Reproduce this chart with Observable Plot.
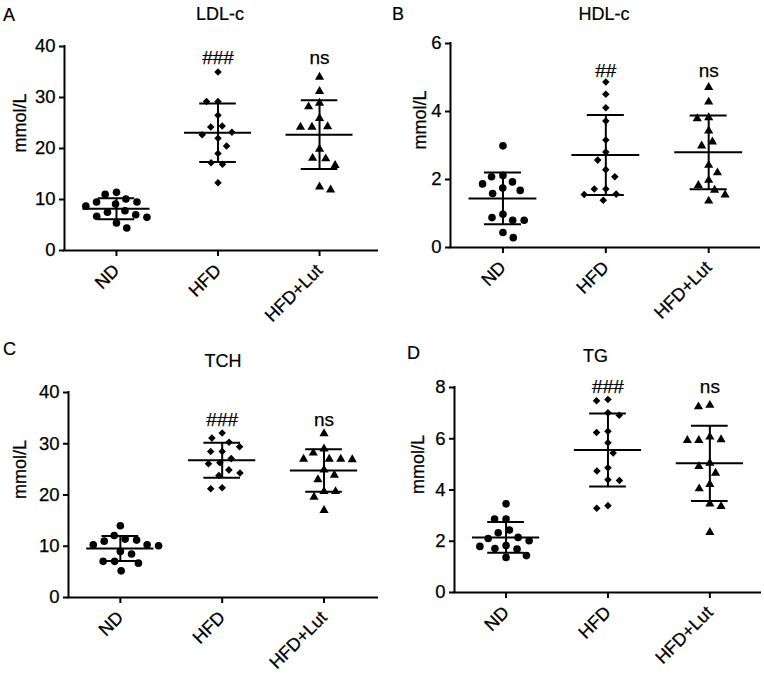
<!DOCTYPE html>
<html><head><meta charset="utf-8">
<script src="https://cdn.jsdelivr.net/npm/d3@7"></script>
<script src="https://cdn.jsdelivr.net/npm/@observablehq/plot@0.6"></script>
<style>
body{margin:0;background:#fff;font-family:"Liberation Sans",Arial,sans-serif;}
#wrap{position:relative;width:764px;height:676px;overflow:hidden;background:#fff}
.panel{position:absolute}
.panel svg{background:transparent !important;max-width:none !important}
#wrap text{paint-order:stroke;stroke:#000;stroke-width:0.25px}
.lbl{position:absolute;font-size:18px;line-height:18px;color:#000;white-space:nowrap;-webkit-text-stroke:0.2px #000}
</style></head><body><div id="wrap"></div>
<script>
// ---- data (mmol/L) ----
const groups = ["ND", "HFD", "HFD+Lut"];
const unitLabel = "mmol/L";
const panelLetters = ["A", "B", "C", "D"];
const panelTitles = ["LDL-c", "HDL-c", "TCH", "TG"];

const ldlND  = [11.4, 11.0, 10.1, 9.5, 9.5, 9.1, 8.7, 7.8, 7.5, 7.0, 6.7, 6.5, 5.4, 4.4];
const ldlHFD = [35.0, 29.2, 29.2, 26.5, 24.4, 24.2, 23.2, 22.7, 22.0, 20.5, 19.0, 17.2, 16.9, 13.3];
const ldlLut = [34.0, 31.2, 28.9, 28.2, 25.9, 24.3, 24.2, 24.2, 19.9, 18.1, 18.0, 16.7, 12.5, 11.9];

const hdlND  = [2.99, 2.12, 2.08, 1.93, 1.87, 1.75, 1.68, 1.59, 0.98, 0.88, 0.80, 0.80, 0.44, 0.29];
const hdlHFD = [4.87, 4.51, 4.11, 3.72, 3.16, 2.81, 2.57, 2.29, 2.08, 1.72, 1.72, 1.57, 1.56, 1.39];
const hdlLut = [4.71, 4.28, 3.82, 3.79, 3.43, 3.11, 2.99, 2.42, 2.20, 1.98, 1.83, 1.69, 1.55, 1.37];

const tchND  = [14.0, 12.1, 11.4, 11.2, 11.0, 10.3, 10.3, 10.1, 9.0, 8.5, 7.05, 7.05, 6.7, 5.2];
const tchHFD = [32.1, 31.1, 30.3, 29.4, 28.5, 28.5, 27.1, 26.3, 26.1, 24.9, 24.3, 23.8, 21.4, 21.2];
const tchLut = [32.0, 29.0, 28.2, 27.0, 27.0, 27.0, 26.9, 24.9, 23.9, 23.0, 20.7, 20.7, 19.6, 17.0];

const tgND  = [3.46, 2.87, 2.87, 2.44, 2.33, 2.15, 2.11, 2.02, 1.83, 1.80, 1.72, 1.70, 1.44, 1.37];
const tgHFD = [7.53, 7.48, 7.01, 6.92, 6.29, 6.24, 5.84, 5.44, 4.87, 4.74, 4.40, 4.37, 3.39, 3.29];
const tgLut = [7.31, 7.25, 6.07, 5.97, 5.94, 5.94, 5.05, 4.92, 4.66, 4.22, 4.05, 3.46, 3.36, 2.35];

const yTicksA = [0, 10, 20, 30, 40];
const yTicksB = [0, 2, 4, 6];
const yTicksC = [0, 10, 20, 30, 40];
const yTicksD = [0, 2, 4, 6, 8];

const annotA = ["", "###", "ns"];
const annotB = ["", "##", "ns"];
const annotC = ["", "###", "ns"];
const annotD = ["", "###", "ns"];
const annotLevel = [36.6, 5.02, 33.5, 7.78];

// ---- layout ----
const panels = [
  {series: [ldlND, ldlHFD, ldlLut], ticks: yTicksA, annot: annotA, left: 0, top: 0, W: 382, H: 335,
   mL: 64, mR: 5, mT: 46, mB: 85, xd: [-0.512, 2.571], ylabDx: -51,
   letter: {x: 3, y: 5.5}, title: {x: 220, y: 4.8}},
  {series: [hdlND, hdlHFD, hdlLut], ticks: yTicksB, annot: annotB, left: 382, top: 0, W: 382, H: 335,
   mL: 68, mR: 5, mT: 43, mB: 88, xd: [-0.51, 2.494], ylabDx: -37,
   letter: {x: 392, y: 4.8}, title: {x: 604, y: 4.8}},
  {series: [tchND, tchHFD, tchLut], ticks: yTicksC, annot: annotC, left: 0, top: 335, W: 382, H: 341,
   mL: 68, mR: 5, mT: 57, mB: 79, xd: [-0.509, 2.525], ylabDx: -55,
   letter: {x: 3, y: 339.8}, title: {x: 223, y: 351.5}},
  {series: [tgND, tgHFD, tgLut], ticks: yTicksD, annot: annotD, left: 382, top: 335, W: 382, H: 341,
   mL: 72, mR: 4, mT: 52, mB: 84, xd: [-0.506, 2.497], ylabDx: -43,
   letter: {x: 407, y: 343.8}, title: {x: 595.5, y: 346.5}}
];
const symbolsByGroup = ["circle", "diamond2", "triangle"];
const rByGroup = [3.8, 3.4, 3.4];

// greedy beeswarm, offsets in pixels
function swarm(values, ky, d) {
  const order = d3.range(values.length).sort((a, b) => values[b] - values[a]);
  const placed = [];
  const off = new Array(values.length).fill(0);
  let flip = 1;
  for (const i of order) {
    const y = values[i] * ky;
    const cands = [0];
    for (const p of placed) {
      const dy = Math.abs(p.y - y);
      if (dy < d) {
        const dx = Math.sqrt(d * d - dy * dy);
        cands.push(p.x + dx, p.x - dx);
      }
    }
    cands.sort((a, b) => Math.abs(a) - Math.abs(b) || flip * (a - b));
    for (const x of cands) {
      if (placed.every(p => (p.x - x) ** 2 + (p.y - y) ** 2 >= d * d - 1e-6)) {
        off[i] = x; placed.push({x, y}); if (x !== 0) flip = -flip; break;
      }
    }
  }
  return off;
}

const wrap = document.getElementById("wrap");
panels.forEach((cfg, pi) => {
  const yMax = cfg.ticks[cfg.ticks.length - 1];
  const plotW = cfg.W - cfg.mL - cfg.mR;
  const plotH = cfg.H - cfg.mT - cfg.mB;
  const kx = plotW / (cfg.xd[1] - cfg.xd[0]);
  const ky = plotH / yMax;
  const rows = [];
  cfg.series.forEach((vals, g) => {
    const off = swarm(vals, ky, 11.5);
    vals.forEach((v, i) => rows.push({g, v, x: g + off[i] / kx}));
  });
  const stats = cfg.series.map((vals, g) => ({g, mean: d3.mean(vals), sd: d3.deviation(vals)}));
  const ann = cfg.annot.map((t, g) => ({g, t, y: annotLevel[pi]})).filter(d => d.t);

  const svg = Plot.plot({
    width: cfg.W, height: cfg.H,
    marginLeft: cfg.mL, marginRight: cfg.mR, marginTop: cfg.mT, marginBottom: cfg.mB,
    x: {domain: cfg.xd, axis: null},
    y: {domain: [0, yMax], axis: null},
    style: {fontFamily: "'Liberation Sans', Arial, sans-serif", fontSize: "18px", color: "#000", background: "transparent", overflow: "visible"},
    marks: [
      Plot.axisY({ticks: cfg.ticks, tickFormat: d3.format("d"), tickSize: 5, tickPadding: 4, strokeWidth: 2, label: null, fontSize: 18.5}),
      Plot.axisX({ticks: [0, 1, 2], tickFormat: i => groups[i], tickRotate: -45, tickSize: 6, tickPadding: 11, strokeWidth: 2, label: null, fontSize: 18}),
      Plot.ruleX([cfg.xd[0]], {y1: 0, y2: yMax, strokeWidth: 2, strokeLinecap: "square"}),
      Plot.ruleY([0], {strokeWidth: 2, strokeLinecap: "square"}),
      Plot.ruleY(stats, {y: "mean", x1: d => d.g - 0.33, x2: d => d.g + 0.33, strokeWidth: 2}),
      Plot.ruleY(stats, {y: d => d.mean + d.sd, x1: d => d.g - 0.18, x2: d => d.g + 0.18, strokeWidth: 2}),
      Plot.ruleY(stats, {y: d => d.mean - d.sd, x1: d => d.g - 0.18, x2: d => d.g + 0.18, strokeWidth: 2}),
      Plot.ruleX(stats, {x: "g", y1: d => d.mean - d.sd, y2: d => d.mean + d.sd, strokeWidth: 2}),
      ...[0, 1, 2].map(g => Plot.dot(rows.filter(d => d.g === g), {x: "x", y: "v", symbol: symbolsByGroup[g], r: rByGroup[g], fill: "#000", stroke: null})),
      Plot.text(ann, {x: "g", y: "y", text: "t", fontSize: 19, lineAnchor: "bottom"}),
      Plot.text([unitLabel], {frameAnchor: "left", text: d => d, rotate: -90, dx: cfg.ylabDx, dy: 4, lineAnchor: "top", fontSize: 18})
    ]
  });
  const holder = document.createElement("div");
  holder.className = "panel";
  holder.style.left = cfg.left + "px";
  holder.style.top = cfg.top + "px";
  holder.appendChild(svg);
  wrap.appendChild(holder);

  const L = document.createElement("div");
  L.className = "lbl"; L.textContent = panelLetters[pi];
  L.style.left = cfg.letter.x + "px"; L.style.top = cfg.letter.y + "px";
  wrap.appendChild(L);
  const T = document.createElement("div");
  T.className = "lbl"; T.textContent = panelTitles[pi];
  T.style.left = cfg.title.x + "px"; T.style.top = cfg.title.y + "px";
  T.style.transform = "translateX(-50%)";
  wrap.appendChild(T);
});
</script></body></html>
